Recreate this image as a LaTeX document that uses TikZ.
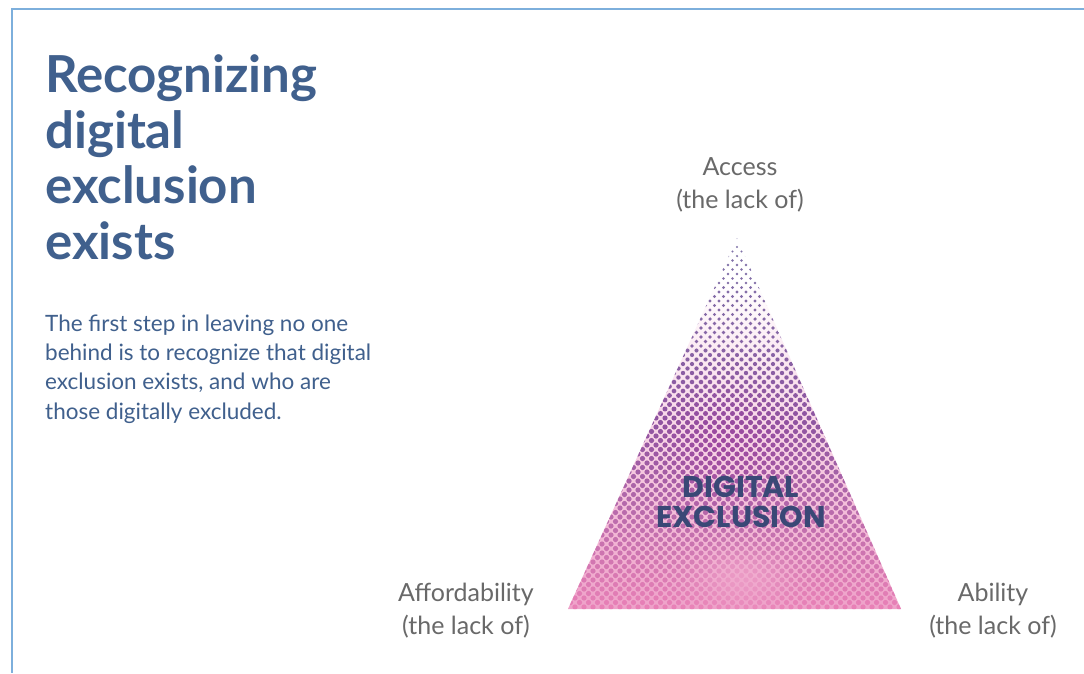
\documentclass[tikz,border=0pt]{standalone}
\usepackage{fontspec}
\setmainfont{Lato}
\newfontfamily\geofont{Poppins}
\usetikzlibrary{positioning}
\definecolor{titleblue}{RGB}{64,96,141}
\definecolor{labelgray}{RGB}{105,105,105}
\definecolor{digblue}{RGB}{58,72,118}
\definecolor{frameblue}{RGB}{125,175,220}
\definecolor{dottop}{RGB}{128,118,170}
\definecolor{dotmid}{RGB}{140,88,162}
\definecolor{dotbot}{RGB}{232,128,182}
\definecolor{blobpurple}{RGB}{160,66,158}
\definecolor{bgmid}{RGB}{228,200,232}
\definecolor{bgpink}{RGB}{238,160,200}

\begin{document}
\begin{tikzpicture}[x=1pt,y=-1pt,
  headtxt/.style={font=\bfseries\fontsize{51}{55.5}\selectfont,text=titleblue,align=left,inner sep=0pt},
  bodytxt/.style={font=\fontsize{22.5}{29.3}\selectfont,text=titleblue,align=left,inner sep=0pt},
  lbl/.style={font=\fontsize{25}{32.5}\selectfont,text=labelgray,align=center,inner sep=0pt},
  coretxt/.style={font=\geofont\bfseries\fontsize{30}{30}\selectfont,text=digblue,align=center,inner sep=0pt}]
\useasboundingbox (0,0) rectangle (1084,673);
\fill[white] (0,0) rectangle (1084,673);
% frame
\draw[frameblue,line width=1.6pt] (1084,9) -- (12,9) -- (12,673);
% triangle
\coordinate (A) at (737,238);
\coordinate (L) at (568,609);
\coordinate (R) at (901,609);
\begin{scope}
\clip (A) -- (L) -- (R) -- cycle;
\shade[top color=white,middle color=bgmid,bottom color=bgpink] (560,280) rectangle (905,612);
\foreach \rr in {0,...,82}{
  \pgfmathsetmacro{\yy}{238+4.5*\rr}
  \pgfmathsetmacro{\rowt}{\rr/82}
  \pgfmathsetmacro{\off}{4.5*mod(\rr,2)}
  \pgfmathtruncatemacro{\cmin}{floor((171-169*\rowt-\off)/9)}
  \pgfmathtruncatemacro{\cmax}{ceil((171+164*\rowt-\off)/9)}
  \pgfmathsetmacro{\pa}{min(100,200*\rowt)}
  \pgfmathsetmacro{\pb}{max(0,200*\rowt-100)}
  \pgfmathsetmacro{\rad}{1.1+1.5*min(1,2*\rowt)}
  \colorlet{rowtmp}{dotmid!\pa!dottop}
  \colorlet{rowc}{dotbot!\pb!rowtmp}
  \foreach \cc in {\cmin,...,\cmax}{
    \pgfmathsetmacro{\xx}{566+\off+9*\cc}
    \pgfmathsetmacro{\pblob}{70*exp(-min(20,((\xx-728)/65)^2+((\yy-445)/55)^2))}
    \pgfmathsetmacro{\pfade}{85*exp(-min(20,((\xx-742)/45)^2+((\yy-578)/28)^2))}
    \colorlet{dotc}{blobpurple!\pblob!rowc}
    \fill[bgpink!\pfade!dotc] (\xx,\yy) circle (\rad);
  }
}
\end{scope}
% texts (base = last line)
\node[headtxt,anchor=base west] (title) at (45,259) {Recognizing\\digital\\exclusion\\exists};
\node[bodytxt,anchor=base west] (intro) at (45,419) {The first step in leaving no one\\behind is to recognize that digital\\exclusion exists, and who are\\those digitally excluded.};
\node[lbl,anchor=base] (access) at (740,208) {Access\\(the lack of)};
\node[lbl,anchor=base] (afford) at (466,634) {Affordability\\(the lack of)};
\node[lbl,anchor=base] (ability) at (993,634) {Ability\\(the lack of)};
\node[coretxt,anchor=base] (core) at (741,527) {DIGITAL\\EXCLUSION};
\end{tikzpicture}
\end{document}
